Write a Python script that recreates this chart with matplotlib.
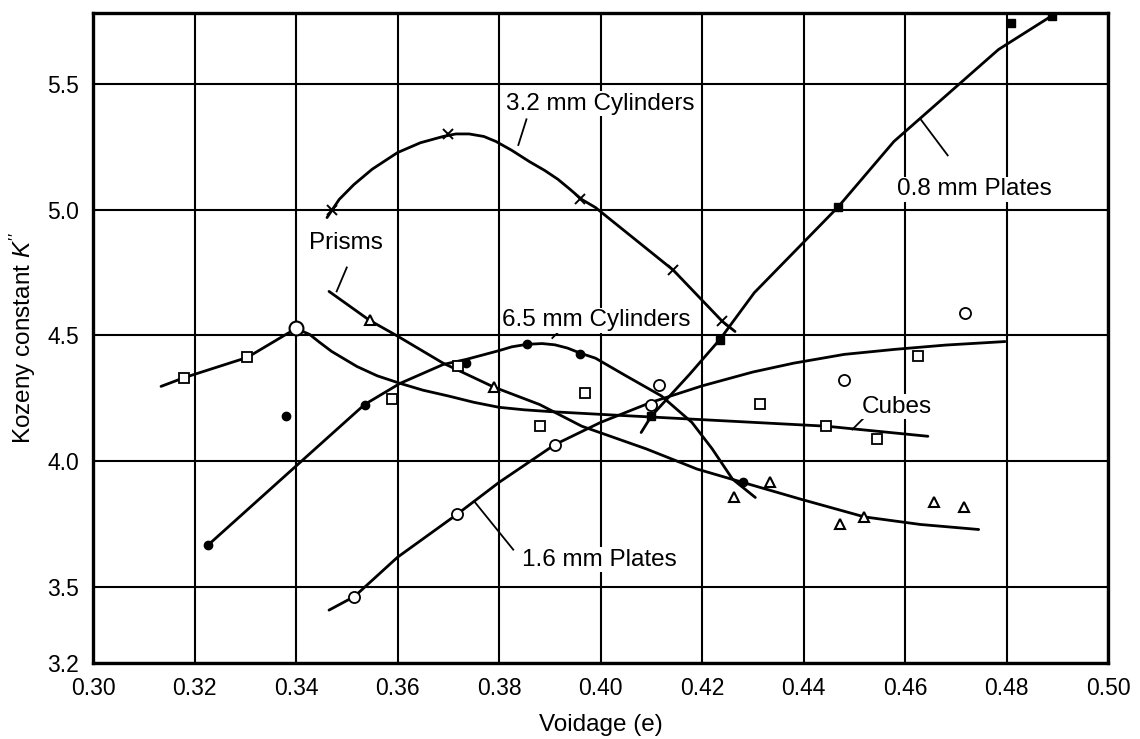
import matplotlib
matplotlib.use("Agg")
import matplotlib.pyplot as plt

plt.rcParams['font.family'] = ['Liberation Sans', 'DejaVu Sans']
plt.rcParams['mathtext.fontset'] = 'custom'
plt.rcParams['mathtext.rm'] = 'Liberation Sans'
plt.rcParams['mathtext.it'] = 'Liberation Sans:italic'

# traced curves (voidage, K'')
cyl32_cx = [0.3461, 0.3485, 0.3514, 0.355, 0.360, 0.3645, 0.369, 0.3715, 0.3741, 0.377, 0.3794,
            0.3825, 0.386, 0.389, 0.3916, 0.394, 0.3963, 0.399, 0.4143, 0.424, 0.4265]
cyl32_cy = [4.968, 5.04, 5.099, 5.16, 5.226, 5.265, 5.29, 5.30, 5.30, 5.29, 5.27,
            5.235, 5.19, 5.155, 5.12, 5.08, 5.04, 5.008, 4.76, 4.556, 4.516]
cyl32_px = [0.347, 0.370, 0.396, 0.4143, 0.424]
cyl32_py = [5.0, 5.30, 5.04, 4.76, 4.556]

cyl65_cx = [0.3226, 0.341, 0.3535, 0.3605, 0.369, 0.3735, 0.380, 0.3825, 0.3855, 0.3885, 0.391,
            0.3935, 0.396, 0.399, 0.405, 0.412, 0.418, 0.422, 0.426, 0.4305]
cyl65_cy = [3.667, 4.0, 4.226, 4.31, 4.385, 4.405, 4.44, 4.455, 4.465, 4.468, 4.463,
            4.45, 4.43, 4.41, 4.34, 4.26, 4.155, 4.05, 3.93, 3.857]
cyl65_px = [0.3226, 0.338, 0.3535, 0.3735, 0.3855, 0.396, 0.428]
cyl65_py = [3.667, 4.18, 4.226, 4.39, 4.465, 4.425, 3.92]

pl08_cx = [0.408, 0.410, 0.4175, 0.4235, 0.4303, 0.4468, 0.4578, 0.4784, 0.489]
pl08_cy = [4.115, 4.18, 4.345, 4.484, 4.67, 5.01, 5.27, 5.635, 5.77]
pl08_px = [0.410, 0.4235, 0.4468, 0.4808, 0.489]
pl08_py = [4.18, 4.484, 5.01, 5.74, 5.77]

pl16_cx = [0.3465, 0.3515, 0.360, 0.3717, 0.380, 0.391, 0.400, 0.410, 0.420, 0.430, 0.438,
           0.448, 0.458, 0.468, 0.4797]
pl16_cy = [3.41, 3.464, 3.62, 3.79, 3.917, 4.067, 4.155, 4.235, 4.30, 4.355, 4.39,
           4.425, 4.445, 4.462, 4.476]
pl16_px = [0.3515, 0.3717, 0.391, 0.410, 0.4115, 0.448, 0.4718]
pl16_py = [3.464, 3.79, 4.067, 4.226, 4.305, 4.325, 4.59]

prism_cx = [0.3465, 0.3545, 0.3598, 0.369, 0.379, 0.388, 0.3963, 0.409, 0.419, 0.4275, 0.4395,
            0.452, 0.463, 0.4745]
prism_cy = [4.675, 4.56, 4.50, 4.39, 4.295, 4.226, 4.14, 4.05, 3.97, 3.92, 3.85,
            3.78, 3.75, 3.73]
prism_px = [0.3545, 0.379, 0.452, 0.4262, 0.4333, 0.4472, 0.4657, 0.4716]
prism_py = [4.56, 4.295, 3.78, 3.86, 3.92, 3.75, 3.84, 3.82]

cube_cx = [0.3134, 0.318, 0.3304, 0.340, 0.3427, 0.3445, 0.347, 0.352, 0.356, 0.3605, 0.365,
           0.370, 0.375, 0.380, 0.385, 0.390, 0.400, 0.419, 0.4445, 0.4645]
cube_cy = [4.298, 4.333, 4.413, 4.528, 4.504, 4.475, 4.437, 4.377, 4.34, 4.31, 4.283,
           4.26, 4.235, 4.215, 4.205, 4.198, 4.187, 4.167, 4.14, 4.10]
cube_px = [0.318, 0.3304, 0.359, 0.372, 0.388, 0.397, 0.4315, 0.4445, 0.4545, 0.4625]
cube_py = [4.333, 4.413, 4.246, 4.38, 4.14, 4.27, 4.23, 4.14, 4.09, 4.42]
cube_peak = (0.340, 4.528)

xticks = [0.30, 0.32, 0.34, 0.36, 0.38, 0.40, 0.42, 0.44, 0.46, 0.48, 0.50]
yticks = [3.2, 3.5, 4.0, 4.5, 5.0, 5.5]

fig = plt.figure(figsize=(11.4, 7.39), dpi=100)
ax = fig.add_axes([0.0816, 0.1028, 0.8904, 0.8796])

lw = 2.0
for cx, cy in [(cyl32_cx, cyl32_cy), (cyl65_cx, cyl65_cy), (pl08_cx, pl08_cy),
               (pl16_cx, pl16_cy), (prism_cx, prism_cy), (cube_cx, cube_cy)]:
    ax.plot(cx, cy, color='black', lw=lw, solid_capstyle='round',
            solid_joinstyle='round', zorder=3)

ax.plot(cyl32_px, cyl32_py, 'x', color='black', ms=7, mew=1.4, zorder=4)
ax.plot(cyl65_px, cyl65_py, 'o', color='black', ms=6, zorder=4)
ax.plot(pl08_px, pl08_py, 's', color='black', ms=6, zorder=4)
ax.plot(pl16_px, pl16_py, 'o', mfc='white', mec='black', ms=8, mew=1.3, zorder=4)
ax.plot(prism_px, prism_py, '^', mfc='white', mec='black', ms=7, mew=1.5, zorder=4)
ax.plot(cube_px, cube_py, 's', mfc='white', mec='black', ms=7.5, mew=1.3, zorder=4)
ax.plot(*cube_peak, 'o', mfc='white', mec='black', ms=10, mew=1.5, zorder=4)

fs = 17.5
box = dict(facecolor='white', edgecolor='none', pad=1)
labels = [
    ("3.2 mm Cylinders", 0.400, 5.42, (0.3838, 5.256), (0.3854, 5.358)),
    ("6.5 mm Cylinders", 0.3992, 4.56, (0.3905, 4.49), (0.392, 4.52)),
    ("Prisms", 0.3499, 4.868, (0.348, 4.675), (0.350, 4.77)),
    ("0.8 mm Plates", 0.4736, 5.08, (0.463, 5.36), (0.4684, 5.215)),
    ("Cubes", 0.4584, 4.218, (0.4496, 4.127), (0.4526, 4.187)),
    ("1.6 mm Plates", 0.3998, 3.61, (0.3753, 3.837), (0.3828, 3.65)),
]
for txt, tx, ty, p0, p1 in labels:
    ax.text(tx, ty, txt, fontsize=fs, ha='center', va='center', bbox=box, zorder=5)
    ax.plot([p0[0], p1[0]], [p0[1], p1[1]], color='black', lw=1.3, zorder=3)

ax.set_xlim(0.30, 0.50)
ax.set_ylim(3.2, 5.78)
ax.set_xticks(xticks)
ax.set_yticks(yticks)
ax.set_xticklabels([f"{v:.2f}" for v in xticks])
ax.set_yticklabels([f"{v:.1f}" for v in yticks])
ax.tick_params(length=0, labelsize=16.5, pad=10)
ax.grid(True, color='black', lw=1.5, zorder=1)
ax.set_axisbelow(True)
for s in ax.spines.values():
    s.set_linewidth(2.4)

ax.set_xlabel("Voidage (e)", fontsize=fs, labelpad=10)
ax.set_ylabel("Kozeny constant $K''$", fontsize=fs, labelpad=7)

fig.savefig("out.png", dpi=100)
